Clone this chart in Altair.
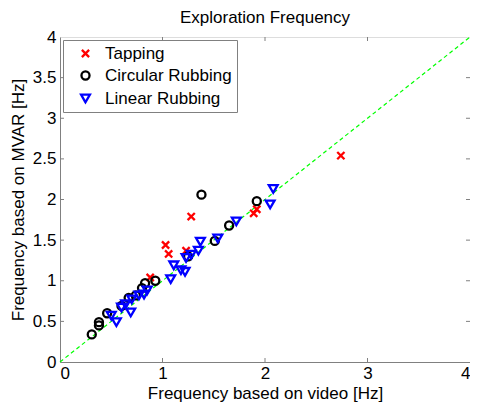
import altair as alt
import pandas as pd

series_names = ["Tapping", "Circular Rubbing", "Linear Rubbing"]

tap_x = [0.88, 1.03, 1.06, 1.23, 1.28, 1.89, 1.92, 2.74]
tap_y = [1.04, 1.44, 1.33, 1.37, 1.79, 1.83, 1.88, 2.54]

circ_x = [0.31, 0.38, 0.38, 0.46, 0.60, 0.67, 0.74, 0.80, 0.83, 0.93, 1.25, 1.38, 1.51, 1.65, 1.92]
circ_y = [0.34, 0.45, 0.49, 0.60, 0.69, 0.79, 0.82, 0.91, 0.97, 1.00, 1.30, 2.06, 1.49, 1.68, 1.98]

lin_x = [0.50, 0.55, 0.60, 0.64, 0.69, 0.70, 0.77, 0.82, 0.85, 1.08, 1.11, 1.18, 1.22, 1.23,
         1.28, 1.35, 1.37, 1.54, 1.72, 2.05, 2.08]
lin_y = [0.57, 0.49, 0.67, 0.71, 0.61, 0.77, 0.82, 0.83, 0.88, 1.02, 1.19, 1.13, 1.11, 1.28,
         1.32, 1.37, 1.48, 1.52, 1.73, 1.94, 2.13]

x_ticks = [0, 1, 2, 3, 4]
y_ticks = [0, 0.5, 1, 1.5, 2, 2.5, 3, 3.5, 4]
diag = [0, 4]

rows = []
for name, xs, ys in [(series_names[0], tap_x, tap_y),
                     (series_names[1], circ_x, circ_y),
                     (series_names[2], lin_x, lin_y)]:
    for a, b in zip(xs, ys):
        rows.append({"video": a, "mvar": b, "type": name})
df = pd.DataFrame(rows)

FONT = "Liberation Sans"
GRAY = "#808080"
FS = 17
W, H = 410, 325

xscale = alt.Scale(domain=[0, 4], nice=False, zero=False)
yscale = alt.Scale(domain=[0, 4], nice=False, zero=False)

xaxis = alt.Axis(values=x_ticks, format="~g", title="Frequency based on video [Hz]",
                 grid=False, tickSize=0, labelPadding=3, domainColor=GRAY,
                 labelFontSize=FS, titleFontSize=FS, labelFont=FONT, titleFont=FONT,
                 titleFontWeight="normal", labelColor="black", titleColor="black",
                 titlePadding=4)
yaxis = alt.Axis(values=y_ticks, format="~g", title="Frequency based on MVAR [Hz]",
                 grid=False, tickSize=0, labelPadding=4, domainColor=GRAY,
                 labelFontSize=FS, titleFontSize=FS, labelFont=FONT, titleFont=FONT,
                 titleFontWeight="normal", labelColor="black", titleColor="black",
                 titlePadding=5)

x_shape = "M-1,-1L1,1M1,-1L-1,1"

points = alt.Chart(df).mark_point(filled=False, strokeWidth=2.3, opacity=1).encode(
    x=alt.X("video:Q", scale=xscale, axis=xaxis),
    y=alt.Y("mvar:Q", scale=yscale, axis=yaxis),
    color=alt.Color("type:N", scale=alt.Scale(domain=series_names,
                                              range=["#ff0000", "#000000", "#0000ff"]),
                    legend=alt.Legend(title=None, orient="none", legendX=3, legendY=3,
                                      strokeColor=GRAY, fillColor="white", padding=5,
                                      labelFontSize=FS, labelFont=FONT, labelColor="black",
                                      symbolSize=45, symbolStrokeWidth=2.3, rowPadding=4,
                                      labelOffset=11, offset=0, symbolOffset=9,
                                      labelLimit=300)),
    shape=alt.Shape("type:N", scale=alt.Scale(domain=series_names,
                                              range=[x_shape, "circle", "triangle-down"]),
                    legend=None),
    size=alt.Size("type:N", scale=alt.Scale(domain=series_names, range=[52, 78, 100]),
                  legend=None),
)

diag_df = pd.DataFrame({"a": diag, "b": diag})
line = alt.Chart(diag_df).mark_line(color="#00ff00", strokeDash=[4, 3], strokeWidth=1.2).encode(
    x=alt.X("a:Q", scale=xscale),
    y=alt.Y("b:Q", scale=yscale),
)

xt = pd.DataFrame({"t": x_ticks[1:-1]})
yt = pd.DataFrame({"t": y_ticks[1:-1]})
tk = dict(color=GRAY, strokeWidth=1)
xt_bottom = alt.Chart(xt).mark_rule(**tk).encode(
    x=alt.X("t:Q", scale=xscale), y=alt.value(H), y2=alt.value(H - 4))
xt_top = alt.Chart(xt).mark_rule(**tk).encode(
    x=alt.X("t:Q", scale=xscale), y=alt.value(0), y2=alt.value(4))
yt_left = alt.Chart(yt).mark_rule(**tk).encode(
    y=alt.Y("t:Q", scale=yscale), x=alt.value(0), x2=alt.value(4))
yt_right = alt.Chart(yt).mark_rule(**tk).encode(
    y=alt.Y("t:Q", scale=yscale), x=alt.value(W), x2=alt.value(W - 4))

chart = alt.layer(line, xt_bottom, xt_top, yt_left, yt_right, points).properties(
    width=W, height=H,
    title=alt.TitleParams("Exploration Frequency", fontSize=FS, fontWeight="normal",
                          font=FONT, color="black", offset=1),
    autosize=alt.AutoSizeParams(type="none"),
    padding={"left": 52, "top": 29, "right": 0, "bottom": 40},
).configure_view(stroke=GRAY, strokeWidth=1).configure(background="white")

chart.save("out.html", embed_options={"renderer": "svg", "actions": False})
